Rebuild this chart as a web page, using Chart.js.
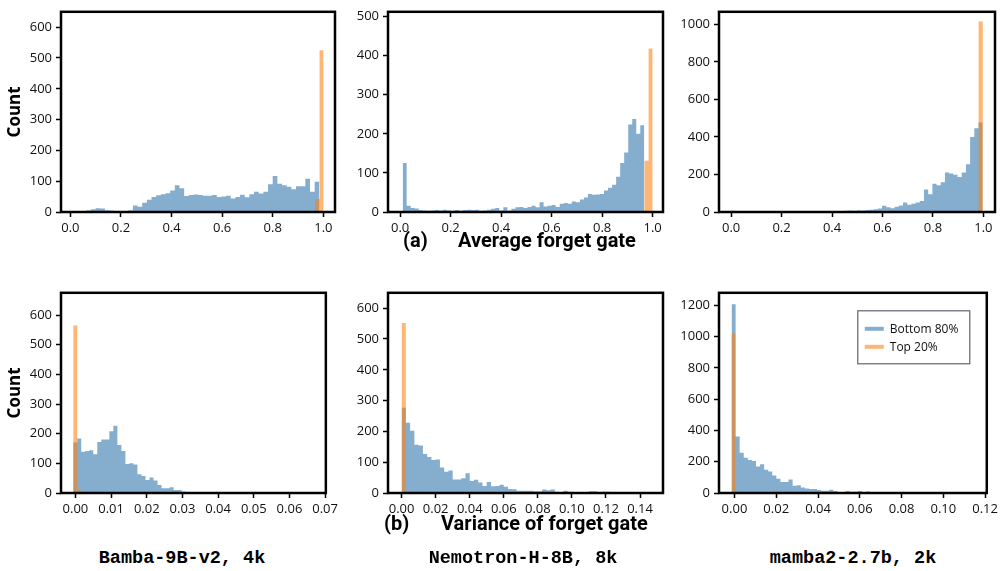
<!DOCTYPE html>
<html>
<head>
<meta charset="utf-8">
<script src="https://cdn.jsdelivr.net/npm/chart.js@4.4.1/dist/chart.umd.min.js"></script>
<style>
  body { margin: 0; background: #fff; width: 1004px; height: 571px; position: relative; overflow: hidden; }
  canvas { position: absolute; }
  .lbl { position: absolute; font: bold 20px Roboto, "Liberation Sans", sans-serif; line-height: 1; transform: translateY(-50%); white-space: nowrap; color: #000; }
  .model { position: absolute; font: bold 18.5px "Courier New", "Liberation Mono", monospace; line-height: 1; transform: translate(-50%, -50%); white-space: nowrap; color: #000; }
</style>
</head>
<body>
<canvas id="c1"></canvas><canvas id="c2"></canvas><canvas id="c3"></canvas>
<canvas id="c4"></canvas><canvas id="c5"></canvas><canvas id="c6"></canvas>

<div class="lbl" style="left:403px;top:240px">(a)</div>
<div class="lbl" style="left:458px;top:240px">Average forget gate</div>
<div class="lbl" style="left:384px;top:523px">(b)</div>
<div class="lbl" style="left:441px;top:523px">Variance of forget gate</div>
<div class="model" style="left:182px;top:559px">Bamba-9B-v2, 4k</div>
<div class="model" style="left:523px;top:559px">Nemotron-H-8B, 8k</div>
<div class="model" style="left:853px;top:559px">mamba2-2.7b, 2k</div>

<script>
const seriesLabels = ["Bottom 80%", "Top 20%"];

// ---- (a) average forget gate ----
// Bamba-9B-v2
const avgBambaStart = 0.063, avgBambaWidth = 0.01842;
const avgBambaBottom = [6, 9, 12, 11, 6, 5, 2, 2, 3, 6, 21, 17, 30, 40, 49, 54, 58, 61, 70, 87,
  77, 52, 55, 57, 55, 53, 53, 55, 49, 50, 53, 44, 49, 56, 48, 58, 66, 60, 66, 90,
  117, 92, 87, 82, 74, 84, 84, 108, 66, 98];
const avgBambaTopEdges = [0.949, 0.967, 0.985, 1.001];
const avgBambaTop = [3, 42, 525];

// Nemotron-H-8B
const avgNemoStart = 0.01, avgNemoWidth = 0.01595;
const avgNemoBottom = [125, 16, 10, 9, 5, 4, 3, 4, 5, 4, 6, 4, 3, 5, 3, 5, 6, 5, 6, 3,
  4, 6, 8, 10, 4, 12, 4, 8, 12, 13, 10, 13, 16, 12, 25, 14, 16, 18, 13, 21,
  23, 21, 27, 25, 32, 37, 46, 44, 45, 46, 55, 62, 70, 90, 125, 152, 224, 238, 200, 222];
const avgNemoTopEdges = [0.967, 0.984, 1.0];
const avgNemoTop = [131, 418];

// mamba2-2.7b
const avgMambaStart = 0.0, avgMambaWidth = 0.01662;
const avgMambaBottom = [6, 1, 1, 2, 1, 0, 1, 0, 0, 1, 1, 0, 0, 1, 0, 0, 1, 1, 0, 2,
  1, 1, 3, 2, 2, 3, 4, 6, 8, 7, 9, 8, 11, 12, 15, 19, 33, 25, 20, 28,
  35, 50, 38, 44, 50, 58, 120, 95, 150, 143, 159, 210, 205, 198, 187, 211, 254, 400, 447, 477];
const avgMambaTopEdges = [0.964, 0.981, 0.998];
const avgMambaTop = [5, 1015];

// ---- (b) variance of forget gate ----
const varBambaStart = -0.00063, varBambaWidth = 0.001126;
const varBambaBottom = [170, 184, 139, 142, 144, 131, 172, 180, 180, 208, 227, 162, 142, 98, 100, 96, 63, 57, 44, 52,
  42, 27, 16, 16, 19, 10, 10, 5, 3, 2, 2, 1, 1, 1, 1, 1];
const varBambaTopEdges = [-0.00063, 0.0005, 0.00163];
const varBambaTop = [565, 9];

const varNemoStart = 0.0, varNemoWidth = 0.0025;
const varNemoBottom = [277, 228, 202, 157, 154, 127, 117, 107, 109, 83, 69, 73, 44, 44, 48, 64, 39, 43, 34, 23,
  36, 22, 23, 27, 20, 13, 12, 7, 7, 7, 7, 6, 6, 11, 9, 11, 4, 3, 7, 4,
  2, 3, 2, 2, 6, 6, 2, 4, 4, 2, 2, 2, 1, 3, 2, 1, 3, 1, 1];
const varNemoTopEdges = [0.0, 0.0025];
const varNemoTop = [552];

const varMambaStart = -0.0014, varMambaWidth = 0.00195;
const varMambaBottom = [1206, 361, 257, 226, 211, 205, 170, 184, 149, 137, 112, 91, 70, 70, 87, 46, 50, 35, 29, 25,
  25, 19, 15, 15, 21, 12, 6, 6, 12, 8, 8, 12, 6, 10, 4, 4, 6, 3, 5, 4,
  3, 2, 3, 2, 1, 1, 2, 1];
const varMambaTopEdges = [-0.0014, 0.00055];
const varMambaTop = [1018];

// tick labels
const avgXTicks = [0.0, 0.2, 0.4, 0.6, 0.8, 1.0];
const varBambaXTicks = [0.00, 0.01, 0.02, 0.03, 0.04, 0.05, 0.06, 0.07];
const varNemoXTicks = [0.00, 0.02, 0.04, 0.06, 0.08, 0.10, 0.12, 0.14];
const varMambaXTicks = [0.00, 0.02, 0.04, 0.06, 0.08, 0.10, 0.12];
const yTicks600 = [0, 100, 200, 300, 400, 500, 600];
const yTicks500 = [0, 100, 200, 300, 400, 500];
const yTicks1000 = [0, 200, 400, 600, 800, 1000];
const yTicks1200 = [0, 200, 400, 600, 800, 1000, 1200];

const BLUE = "rgba(70,130,180,0.66)";
const ORANGE = "rgba(255,127,14,0.58)";

Chart.defaults.font.family = '"Open Sans", "Noto Sans", sans-serif';
Chart.defaults.font.size = 13;
Chart.defaults.color = "#111";

function binPoints(start, width, counts) {
  const pts = counts.map((c, i) => ({ x: start + i * width, y: c }));
  pts.push({ x: start + counts.length * width, y: 0 });
  return pts;
}
function edgePoints(edges, counts) {
  return edges.map((e, i) => ({ x: e, y: i < counts.length ? counts[i] : 0 }));
}

// black box around the plot area
const framePlugin = {
  id: "frame",
  afterDraw(chart) {
    const { ctx, chartArea: a } = chart;
    ctx.save();
    ctx.strokeStyle = "#000";
    ctx.lineWidth = 2.5;
    ctx.strokeRect(a.left, a.top, a.right - a.left, a.bottom - a.top);
    ctx.restore();
  }
};

// legend drawn inside the plot area, boxed
const boxLegend = {
  id: "boxLegend",
  afterDatasetsDraw(chart, args, opts) {
    if (!opts.show) return;
    const { ctx, chartArea: a } = chart;
    const w = 112, h = 53;
    const x = a.right - 17 - w, y = a.top + 18;
    ctx.save();
    ctx.fillStyle = "#fff";
    ctx.fillRect(x, y, w, h);
    ctx.strokeStyle = "#5f6470";
    ctx.lineWidth = 1.2;
    ctx.strokeRect(x, y, w, h);
    ctx.font = '12px "Open Sans", sans-serif';
    ctx.textBaseline = "middle";
    chart.data.datasets.forEach((ds, i) => {
      const ly = y + 18 + i * 18;
      ctx.strokeStyle = ds.backgroundColor;
      ctx.lineWidth = 4;
      ctx.beginPath();
      ctx.moveTo(x + 7, ly);
      ctx.lineTo(x + 26, ly);
      ctx.stroke();
      ctx.fillStyle = "#111";
      ctx.fillText(ds.label, x + 32, ly + 0.5);
    });
    ctx.restore();
  }
};

function makePanel(id, box, bottomPts, topPts, xRange, xTicks, xDigits, yMax, yTicks, showCount, showLegend) {
  const cv = document.getElementById(id);
  cv.width = box.w; cv.height = box.h;
  cv.style.left = box.left + "px"; cv.style.top = box.top + "px";
  new Chart(cv, {
    type: "line",
    data: {
      datasets: [
        { label: seriesLabels[0], data: bottomPts, stepped: true, fill: "origin",
          backgroundColor: BLUE, borderWidth: 0, pointRadius: 0, order: 1 },
        { label: seriesLabels[1], data: topPts, stepped: true, fill: "origin",
          backgroundColor: ORANGE, borderWidth: 0, pointRadius: 0, order: 0 }
      ]
    },
    options: {
      responsive: false,
      animation: false,
      devicePixelRatio: 1,
      layout: { autoPadding: false, padding: { top: 6, right: 6, left: 0, bottom: 0 } },
      plugins: { legend: { display: false }, tooltip: { enabled: false }, boxLegend: { show: showLegend } },
      scales: {
        x: {
          type: "linear", min: xRange[0], max: xRange[1],
          afterFit: s => { s.height = 30; },
          afterBuildTicks: s => { s.ticks = xTicks.map(v => ({ value: v })); },
          ticks: { padding: 3, maxRotation: 0, autoSkip: false, callback: v => v.toFixed(xDigits) },
          grid: { drawOnChartArea: false, tickLength: 5, tickWidth: 1.5, tickColor: "#000" },
          border: { display: false }
        },
        y: {
          min: 0, max: yMax,
          afterFit: s => { s.width = box.yW; },
          afterBuildTicks: s => { s.ticks = yTicks.map(v => ({ value: v })); },
          ticks: { padding: 4, autoSkip: false, callback: v => String(v) },
          grid: { drawOnChartArea: false, tickLength: 5, tickWidth: 1.5, tickColor: "#000" },
          border: { display: false },
          title: { display: showCount, text: "Count", font: { size: 17, weight: "bold" }, color: "#000", padding: { top: 5, bottom: 0 } }
        }
      }
    },
    plugins: [framePlugin, boxLegend]
  });
}

makePanel("c1", { left: 0, top: 0, w: 341, h: 242, yW: 61 },
  binPoints(avgBambaStart, avgBambaWidth, avgBambaBottom), edgePoints(avgBambaTopEdges, avgBambaTop),
  [-0.037, 1.046], avgXTicks, 1, 650, yTicks600, true, false);
makePanel("c2", { left: 328, top: 0, w: 341, h: 242, yW: 60 },
  binPoints(avgNemoStart, avgNemoWidth, avgNemoBottom), edgePoints(avgNemoTopEdges, avgNemoTop),
  [-0.048, 1.041], avgXTicks, 1, 512, yTicks500, false, false);
makePanel("c3", { left: 659, top: 0, w: 342, h: 242, yW: 60 },
  binPoints(avgMambaStart, avgMambaWidth, avgMambaBottom), edgePoints(avgMambaTopEdges, avgMambaTop),
  [-0.048, 1.046], avgXTicks, 1, 1067, yTicks1000, false, false);
makePanel("c4", { left: 0, top: 281, w: 341, h: 242, yW: 61 },
  binPoints(varBambaStart, varBambaWidth, varBambaBottom), edgePoints(varBambaTopEdges, varBambaTop),
  [-0.00405, 0.0702], varBambaXTicks, 2, 675, yTicks600, true, false);
makePanel("c5", { left: 328, top: 281, w: 341, h: 242, yW: 60 },
  binPoints(varNemoStart, varNemoWidth, varNemoBottom), edgePoints(varNemoTopEdges, varNemoTop),
  [-0.008, 0.1535], varNemoXTicks, 2, 650, yTicks600, false, false);
makePanel("c6", { left: 659, top: 281, w: 342, h: 242, yW: 60 },
  binPoints(varMambaStart, varMambaWidth, varMambaBottom), edgePoints(varMambaTopEdges, varMambaTop),
  [-0.0074, 0.1208], varMambaXTicks, 2, 1280, yTicks1200, false, true);
</script>
</body>
</html>
